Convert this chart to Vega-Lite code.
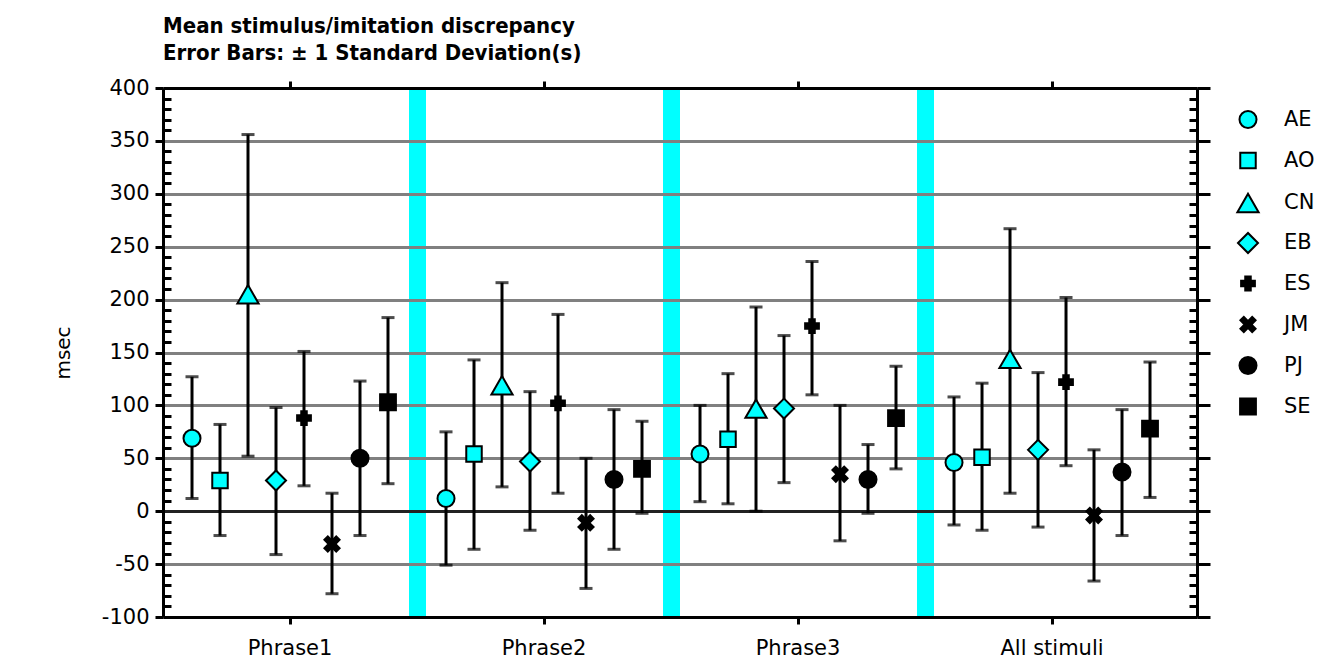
{
  "$schema": "https://vega.github.io/schema/vega-lite/v6.json",
  "width": 1034,
  "height": 529,
  "autosize": "none",
  "padding": {"left": 163, "top": 88, "right": 138, "bottom": 49},
  "background": "white",
  "title": {
    "text": ["Mean stimulus/imitation discrepancy", "Error Bars: ± 1 Standard Deviation(s)"],
    "anchor": "start",
    "frame": "group",
    "font": "DejaVu Sans Condensed",
    "fontWeight": "bold",
    "fontSize": 22,
    "lineHeight": 27,
    "color": "black",
    "offset": 12
  },
  "config": {
    "view": {"stroke": null},
    "axis": {"labelFont": "DejaVu Sans", "titleFont": "DejaVu Sans", "labelColor": "black", "titleColor": "black", "domainColor": "black", "tickColor": "black"},
    "legend": {"labelFont": "DejaVu Sans", "labelColor": "black"}
  },
  "datasets": {
    "pts": [
      {"group": "Phrase1", "series": "AE", "mean": 69, "lo": 12, "hi": 127},
      {"group": "Phrase1", "series": "AO", "mean": 29, "lo": -23, "hi": 82},
      {"group": "Phrase1", "series": "CN", "mean": 205, "lo": 52, "hi": 356},
      {"group": "Phrase1", "series": "EB", "mean": 29, "lo": -41, "hi": 98},
      {"group": "Phrase1", "series": "ES", "mean": 88, "lo": 24, "hi": 151},
      {"group": "Phrase1", "series": "JM", "mean": -31, "lo": -78, "hi": 17},
      {"group": "Phrase1", "series": "PJ", "mean": 50, "lo": -23, "hi": 123},
      {"group": "Phrase1", "series": "SE", "mean": 103, "lo": 26, "hi": 183},
      {"group": "Phrase2", "series": "AE", "mean": 12, "lo": -51, "hi": 75},
      {"group": "Phrase2", "series": "AO", "mean": 54, "lo": -36, "hi": 143},
      {"group": "Phrase2", "series": "CN", "mean": 119, "lo": 23, "hi": 216},
      {"group": "Phrase2", "series": "EB", "mean": 47, "lo": -18, "hi": 113},
      {"group": "Phrase2", "series": "ES", "mean": 102, "lo": 17, "hi": 186},
      {"group": "Phrase2", "series": "JM", "mean": -11, "lo": -73, "hi": 50},
      {"group": "Phrase2", "series": "PJ", "mean": 30, "lo": -36, "hi": 96},
      {"group": "Phrase2", "series": "SE", "mean": 40, "lo": -2, "hi": 85},
      {"group": "Phrase3", "series": "AE", "mean": 54, "lo": 9, "hi": 100},
      {"group": "Phrase3", "series": "AO", "mean": 68, "lo": 7, "hi": 130},
      {"group": "Phrase3", "series": "CN", "mean": 97, "lo": 0, "hi": 193},
      {"group": "Phrase3", "series": "EB", "mean": 97, "lo": 27, "hi": 166},
      {"group": "Phrase3", "series": "ES", "mean": 175, "lo": 110, "hi": 236},
      {"group": "Phrase3", "series": "JM", "mean": 35, "lo": -28, "hi": 100},
      {"group": "Phrase3", "series": "PJ", "mean": 30, "lo": -2, "hi": 63},
      {"group": "Phrase3", "series": "SE", "mean": 88, "lo": 40, "hi": 137},
      {"group": "All stimuli", "series": "AE", "mean": 46, "lo": -13, "hi": 108},
      {"group": "All stimuli", "series": "AO", "mean": 51, "lo": -18, "hi": 121},
      {"group": "All stimuli", "series": "CN", "mean": 144, "lo": 17, "hi": 267},
      {"group": "All stimuli", "series": "EB", "mean": 58, "lo": -15, "hi": 131},
      {"group": "All stimuli", "series": "ES", "mean": 122, "lo": 43, "hi": 202},
      {"group": "All stimuli", "series": "JM", "mean": -4, "lo": -66, "hi": 58},
      {"group": "All stimuli", "series": "PJ", "mean": 37, "lo": -23, "hi": 96},
      {"group": "All stimuli", "series": "SE", "mean": 78, "lo": 13, "hi": 141}
    ]
  },
  "data": {"name": "pts"},
  "layer": [
    {
      "mark": {"type": "rule", "color": "black", "strokeWidth": 3},
      "encoding": {
        "x": {"field": "group", "type": "nominal", "sort": ["Phrase1", "Phrase2", "Phrase3", "All stimuli"],
          "scale": {"paddingInner": 0, "paddingOuter": 0.0354, "align": 0},
          "axis": {"orient": "top", "title": null, "labels": false, "ticks": false, "domain": false,
            "values": ["Phrase1", "Phrase2", "Phrase3"], "bandPosition": 1,
            "grid": true, "gridColor": "#00FFFF", "gridWidth": 17, "gridOpacity": 1}},
        "xOffset": {"field": "series", "type": "nominal", "sort": ["AE", "AO", "CN", "EB", "ES", "JM", "PJ", "SE"], "scale": {"paddingInner": 0, "paddingOuter": 0.536}},
        "y": {"field": "lo", "type": "quantitative",
          "scale": {"domain": [-100, 400], "nice": false, "zero": false},
          "axis": {"orient": "left", "title": null, "labels": false, "domain": false, "grid": false, "tickSize": -8, "tickWidth": 3,
            "values": [-90, -80, -70, -60, -40, -30, -20, -10, 10, 20, 30, 40, 60, 70, 80, 90, 110, 120, 130, 140, 160, 170, 180, 190, 210, 220, 230, 240, 260, 270, 280, 290, 310, 320, 330, 340, 360, 370, 380, 390]}},
        "y2": {"field": "hi"}
      }
    },
    {
      "mark": {"type": "tick", "color": "black", "thickness": 3, "size": 13},
      "encoding": {
        "x": {"field": "group", "type": "nominal", "sort": ["Phrase1", "Phrase2", "Phrase3", "All stimuli"],
          "axis": {"orient": "bottom", "title": null, "labelAngle": 0, "tickSize": 7, "tickWidth": 3, "domainWidth": 3, "labelFontSize": 21, "labelPadding": 13, "grid": false}},
        "xOffset": {"field": "series", "type": "nominal", "sort": ["AE", "AO", "CN", "EB", "ES", "JM", "PJ", "SE"]},
        "y": {"field": "lo", "type": "quantitative",
          "axis": {"orient": "right", "title": null, "labels": false, "grid": false, "tickSize": 13, "tickWidth": 3, "domainWidth": 3,
            "values": [-100, -50, 0, 50, 100, 150, 200, 250, 300, 350, 400]}}
      }
    },
    {
      "mark": {"type": "tick", "color": "black", "thickness": 3, "size": 13},
      "encoding": {
        "x": {"field": "group", "type": "nominal", "sort": ["Phrase1", "Phrase2", "Phrase3", "All stimuli"],
          "axis": {"orient": "top", "title": null, "labels": false, "tickSize": 7, "tickWidth": 3, "domainWidth": 3, "grid": false}},
        "xOffset": {"field": "series", "type": "nominal", "sort": ["AE", "AO", "CN", "EB", "ES", "JM", "PJ", "SE"]},
        "y": {"field": "hi", "type": "quantitative",
          "axis": {"orient": "right", "title": null, "labels": false, "domain": false, "grid": false, "tickSize": -8, "tickWidth": 3,
            "values": [-90, -80, -70, -60, -40, -30, -20, -10, 10, 20, 30, 40, 60, 70, 80, 90, 110, 120, 130, 140, 160, 170, 180, 190, 210, 220, 230, 240, 260, 270, 280, 290, 310, 320, 330, 340, 360, 370, 380, 390]}}
      }
    },
    {
      "mark": {"type": "point", "filled": true, "stroke": "black", "strokeWidth": 2, "opacity": 1},
      "encoding": {
        "x": {"field": "group", "type": "nominal", "sort": ["Phrase1", "Phrase2", "Phrase3", "All stimuli"], "axis": null},
        "xOffset": {"field": "series", "type": "nominal", "sort": ["AE", "AO", "CN", "EB", "ES", "JM", "PJ", "SE"]},
        "y": {"field": "mean", "type": "quantitative",
          "axis": {"orient": "left", "title": "msec", "titleFontSize": 20, "titleFontWeight": "normal", "titlePadding": 28,
            "values": [-100, -50, 0, 50, 100, 150, 200, 250, 300, 350, 400], "labelExpr": "'' + datum.value",
            "labelFontSize": 21, "labelPadding": 6, "tickSize": 8, "tickWidth": 3, "domainWidth": 3,
            "grid": true, "gridWidth": 3, "gridColor": {"condition": {"test": "datum.value === 0", "value": "#222222"}, "value": "#808080"}}},
        "fill": {"field": "series", "type": "nominal", "sort": ["AE", "AO", "CN", "EB", "ES", "JM", "PJ", "SE"],
          "scale": {"domain": ["AE", "AO", "CN", "EB", "ES", "JM", "PJ", "SE"], "range": ["#00FFFF", "#00FFFF", "#00FFFF", "#00FFFF", "black", "black", "black", "black"]},
          "legend": {"title": null, "orient": "none", "legendX": 1073, "legendY": 21, "labelFontSize": 21, "labelOffset": 24, "rowPadding": 12, "gridAlign": "all", "padding": 0,
            "symbolStrokeColor": "black", "symbolStrokeWidth": 2, "symbolOpacity": 1}},
        "shape": {"field": "series", "type": "nominal", "sort": ["AE", "AO", "CN", "EB", "ES", "JM", "PJ", "SE"],
          "scale": {"domain": ["AE", "AO", "CN", "EB", "ES", "JM", "PJ", "SE"],
            "range": ["circle", "square", "triangle-up", "diamond", "cross", "M-1,-0.55L-0.55,-1L0,-0.45L0.55,-1L1,-0.55L0.45,0L1,0.55L0.55,1L0,0.45L-0.55,1L-1,0.55L-0.45,0Z", "circle", "square"]},
          "legend": {"title": null}},
        "size": {"field": "series", "type": "nominal", "sort": ["AE", "AO", "CN", "EB", "ES", "JM", "PJ", "SE"],
          "scale": {"type": "ordinal", "domain": ["AE", "AO", "CN", "EB", "ES", "JM", "PJ", "SE"], "range": [290, 240, 450, 400, 190, 230, 290, 250]},
          "legend": {"title": null}}
      }
    }
  ],
  "resolve": {"axis": {"x": "independent", "y": "independent"}}
}
